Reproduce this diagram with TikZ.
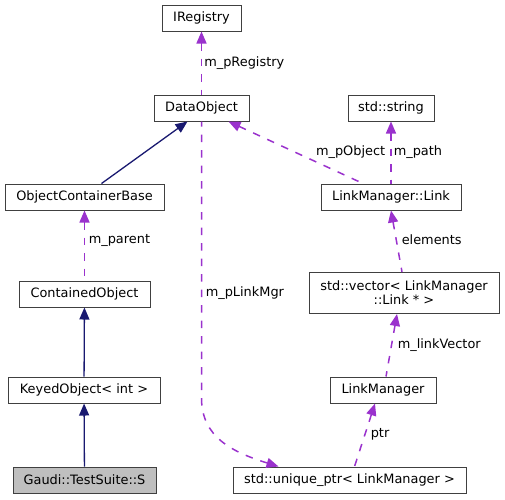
\documentclass[tikz,border=0pt]{standalone}
\usepackage{fontspec}
\setmainfont{DejaVu Sans}
\usetikzlibrary{arrows.meta}
\definecolor{orchid}{HTML}{9A32CD}
\definecolor{navy}{HTML}{191970}
\tikzstyle{cls}=[draw=black!75,line width=1pt,fill=white,font=\fontsize{12.9}{14}\selectfont,minimum height=26pt,inner sep=0pt,align=center]
\tikzstyle{maincls}=[cls,fill=black!25]
\tikzstyle{member}=[<-,>={Triangle[length=12pt,width=10pt]},orchid,dash pattern=on 7.5pt off 8pt,line width=1.5pt]
\tikzstyle{inherit}=[<-,>={Triangle[length=12pt,width=10pt]},navy,line width=1.3pt]
\tikzstyle{lbl}=[font=\fontsize{12.9}{14}\selectfont,text=black,inner sep=2pt]

\begin{document}
\begin{tikzpicture}[x=1pt,y=-1pt]
\useasboundingbox (0,0) rectangle (505,499);
% left column
\node[cls,minimum width=79pt] (iregistry) at (201.5,18) {IRegistry};
\node[cls,minimum width=95pt] (dataobject) at (201.5,108) {DataObject};
\node[cls,minimum width=159pt] (ocb) at (84.5,197) {ObjectContainerBase};
\node[cls,minimum width=131pt] (contained) at (84.5,294) {ContainedObject};
\node[cls,minimum width=152pt] (keyed) at (84,390) {KeyedObject< int >};
\node[maincls,minimum width=143pt] (gaudi) at (84.5,480) {Gaudi::TestSuite::S};
% right column
\node[cls,minimum width=86pt] (string) at (391,108) {std::string};
\node[cls,minimum width=140pt] (link) at (391,197) {LinkManager::Link};
\node[cls,minimum width=190pt,minimum height=41pt] (vector) at (404,293) {std::vector< LinkManager\\::Link * >};
\node[cls,minimum width=106pt] (linkmgr) at (383,390) {LinkManager};
\node[cls,minimum width=233pt] (uniqueptr) at (349.5,480) {std::unique\_ptr< LinkManager >};
% inheritance
\draw[inherit] ([xshift=-14pt]dataobject.south) -- ([xshift=17pt]ocb.north);
\draw[inherit] (contained) -- (keyed);
\draw[inherit] (keyed) -- (gaudi);
% members
\draw[member] (iregistry) -- (dataobject) node[lbl,midway,right] (l_reg) {m\_pRegistry};
\draw[member] (ocb) -- (contained) node[lbl,anchor=west] (l_parent) at (86,240) {m\_parent};
\draw[member] ([xshift=27pt]dataobject.south) -- ([xshift=-28pt]link.north)
    node[lbl,anchor=east] (l_obj) at (388,152) {m\_pObject};
\draw[member] (string) -- (link) node[lbl,midway,right] (l_path) {m\_path};
\draw[member] (link.south) -- ([xshift=-2pt]vector.north)
    node[lbl,anchor=west] (l_elem) at (399,240) {elements};
\draw[member] ([xshift=-7pt]vector.south) -- ([xshift=3pt]linkmgr.north)
    node[lbl,anchor=west] (l_vec) at (395,345) {m\_linkVector};
\draw[member] ([xshift=-8pt]linkmgr.south) -- ([xshift=5pt]uniqueptr.north)
    node[lbl,anchor=west] (l_ptr) at (368,434) {ptr};
\draw[member] ([xshift=-71pt]uniqueptr.north) .. controls (232,452) and (201.5,437) .. (201.5,398)
    -- (dataobject.south) node[lbl,anchor=west] (l_mgr) at (203,293) {m\_pLinkMgr};
\end{tikzpicture}
\end{document}
